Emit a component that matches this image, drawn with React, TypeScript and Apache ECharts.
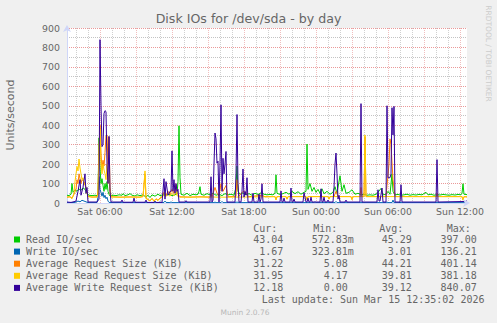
import React, { useEffect, useRef } from "react";
import * as echarts from "echarts";

// ---- axes / labels -------------------------------------------------------
const TITLE = "Disk IOs for /dev/sda - by day";
const Y_LABEL = "Units/second";
// x values are minutes since Sat 00:00
const X_MIN = 195; // Sat 03:15
const X_MAX = 2195; // Sun 12:35
const STEP_MIN = 5; // rrd resolution (minutes per sample)
const xTickMinutes = [360, 720, 1080, 1440, 1800, 2160];
const xTickLabels = ["Sat 06:00", "Sat 12:00", "Sat 18:00", "Sun 00:00", "Sun 06:00", "Sun 12:00"];
const MINOR_GRID_EVERY = 60; // minutes
const MAJOR_GRID_EVERY = 180; // minutes

// ---- series ----------------------------------------------------------------
const seriesNames = [
  "Read IO/sec",
  "Write IO/sec",
  "Average Request Size (KiB)",
  "Average Read Request Size (KiB)",
  "Average Write Request Size (KiB)",
];
const seriesColors = ["#00CC00", "#0066B3", "#FF8000", "#FFCC00", "#330099"];

const readIO: [number, number][] = [
  [195,40],[205,38],[215,45],[220,100],[225,55],[235,68],[245,60],[255,72],[265,65],[275,78],[285,70],[295,48],[305,40],[320,38],[335,40],[345,38],[350,45],[355,335],[360,180],[365,100],[370,125],[375,90],[380,60],[385,100],[390,70],[395,110],[400,60],[405,45],[410,36],[425,40],[440,38],[455,42],[470,40],[475,48],[485,38],[500,42],[510,48],[520,40],[535,36],[545,42],[560,38],[575,42],[590,30],[600,40],[610,28],[620,42],[635,35],[650,45],[660,38],[675,42],[690,40],[705,45],[720,38],[735,42],[745,48],[750,110],[755,397],[760,130],[765,45],[780,40],[795,50],[810,38],[825,45],[840,42],[850,45],[855,60],[860,84],[865,45],[880,40],[895,48],[910,42],[925,50],[940,40],[955,45],[970,38],[985,48],[1000,42],[1015,45],[1030,40],[1040,80],[1045,190],[1050,60],[1060,45],[1075,52],[1090,42],[1105,48],[1120,40],[1135,50],[1150,44],[1165,52],[1180,45],[1195,42],[1210,44],[1225,42],[1235,50],[1240,145],[1245,50],[1260,44],[1275,48],[1290,55],[1305,45],[1320,60],[1335,48],[1350,58],[1365,45],[1380,55],[1390,60],[1395,303],[1400,70],[1410,100],[1420,60],[1430,80],[1440,55],[1450,70],[1460,50],[1470,73],[1480,48],[1495,60],[1510,45],[1525,55],[1535,84],[1545,50],[1560,140],[1570,60],[1580,94],[1590,50],[1605,55],[1620,68],[1635,45],[1650,50],[1665,42],[1680,45],[1695,40],[1710,42],[1725,40],[1740,45],[1750,55],[1765,75],[1775,42],[1790,45],[1800,60],[1810,45],[1820,150],[1825,60],[1835,42],[1850,44],[1865,40],[1880,42],[1895,45],[1910,40],[1925,43],[1940,41],[1955,44],[1970,42],[1990,55],[2000,42],[2015,45],[2030,40],[2045,43],[2060,41],[2075,44],[2090,42],[2105,40],[2120,43],[2135,41],[2150,44],[2165,42],[2170,50],[2175,99],[2180,45],[2195,43],
];

const writeIO: [number, number][] = [
  [195,1.5],[235,3],[250,10],[260,6],[270,14],[285,8],[300,2],[345,2],[350,30],[355,136],[360,70],[365,55],[370,35],[375,55],[380,28],[385,40],[390,22],[395,30],[400,10],[405,3],[420,2],[530,2],[535,4],[540,2],[655,2],[660,6],[665,2],[680,3],[685,10],[690,3],[710,2],[715,6],[720,2],[930,2],[935,5],[940,2],[965,2],[970,8],[975,2],[1040,2],[1045,6],[1050,2],[1430,2],[1435,6],[1440,2],[1535,2],[1540,8],[1545,2],[1665,2],[1670,4],[1675,2],[1790,2],[1795,5],[1800,2],[1820,2],[1825,15],[1830,2],[1855,2],[1860,3],[1865,2],[2040,2],[2045,4],[2050,2],[2195,1.7],
];

const avgReqSize: [number, number][] = [
  [195,30],[210,32],[220,25],[230,45],[240,70],[245,120],[250,100],[255,150],[265,100],[270,120],[280,110],[290,80],[300,35],[320,30],[345,32],[350,60],[355,280],[360,401],[365,250],[370,180],[375,220],[380,190],[385,260],[390,345],[395,350],[400,200],[405,340],[410,80],[415,32],[460,30],[510,31],[560,30],[575,35],[585,150],[590,25],[600,18],[610,12],[620,24],[630,10],[640,22],[650,14],[660,26],[670,32],[680,55],[690,40],[700,60],[710,45],[720,70],[730,50],[740,95],[745,50],[760,32],[810,30],[860,32],[910,30],[915,45],[920,32],[935,80],[945,50],[955,35],[965,100],[975,60],[990,90],[1000,32],[1040,35],[1045,120],[1055,35],[1075,60],[1095,50],[1100,32],[1170,40],[1185,32],[1235,33],[1240,17],[1245,33],[1290,33],[1295,20],[1300,33],[1390,33],[1395,18],[1400,33],[1500,33],[1505,20],[1510,33],[1530,33],[1540,60],[1550,33],[1615,33],[1620,18],[1625,33],[1660,33],[1665,80],[1670,33],[1680,33],[1685,340],[1690,33],[1790,33],[1795,90],[1805,200],[1810,330],[1815,300],[1825,120],[1835,33],[2040,33],[2045,50],[2050,33],[2170,33],[2175,15],[2180,33],[2195,31],
];

const avgReadReqSize: [number, number][] = [
  [195,30],[210,32],[220,22],[230,50],[235,110],[245,188],[250,165],[255,226],[260,180],[270,120],[275,130],[280,95],[285,100],[295,50],[300,32],[345,30],[350,45],[355,250],[360,381],[365,200],[370,150],[375,200],[380,170],[385,150],[390,120],[395,200],[400,100],[405,150],[410,50],[415,31],[460,30],[510,31],[560,30],[575,32],[585,165],[590,22],[600,18],[610,10],[620,22],[630,8],[640,20],[650,12],[660,24],[670,30],[680,40],[690,33],[700,45],[710,35],[720,50],[730,38],[740,55],[745,38],[760,30],[860,31],[1000,30],[1100,31],[1185,32],[1235,33],[1240,17],[1245,33],[1290,33],[1295,20],[1300,33],[1390,33],[1395,18],[1400,33],[1500,33],[1505,20],[1510,33],[1615,33],[1620,18],[1625,33],[1680,33],[1685,350],[1690,33],[2170,33],[2175,15],[2180,33],[2195,32],
];

const avgWriteReqSize: [number, number][] = [
  [195,5],[215,3],[235,8],[240,10],[250,60],[260,120],[265,40],[275,80],[285,150],[290,50],[295,80],[300,5],[345,5],[355,20],[360,840],[365,500],[370,290],[375,300],[380,460],[385,475],[390,470],[395,200],[400,100],[405,343],[410,60],[415,5],[465,5],[470,15],[475,4],[525,4],[530,25],[535,4],[585,4],[590,15],[595,3],[630,3],[635,10],[640,3],[670,3],[680,125],[685,20],[690,110],[700,40],[710,60],[715,60],[720,268],[725,60],[730,120],[735,50],[740,100],[745,60],[750,70],[755,5],[785,5],[790,12],[795,5],[910,5],[915,135],[920,5],[925,15],[930,200],[935,360],[940,330],[945,205],[950,215],[955,5],[960,200],[965,505],[970,60],[975,230],[980,150],[985,200],[990,265],[995,5],[1035,5],[1040,150],[1045,455],[1050,100],[1055,5],[1065,5],[1070,60],[1075,175],[1080,30],[1085,60],[1090,40],[1095,130],[1100,5],[1120,5],[1125,50],[1130,5],[1150,5],[1155,46],[1160,5],[1165,20],[1170,99],[1175,5],[1260,5],[1265,62],[1270,5],[1275,5],[1280,25],[1285,5],[1310,5],[1315,77],[1320,5],[1325,5],[1330,20],[1335,5],[1375,5],[1380,53],[1385,30],[1390,5],[1395,5],[1400,25],[1405,5],[1410,5],[1415,30],[1420,5],[1460,5],[1465,73],[1470,5],[1475,5],[1480,30],[1485,5],[1495,5],[1500,15],[1505,5],[1525,5],[1530,80],[1535,200],[1540,257],[1545,150],[1550,20],[1555,40],[1560,5],[1585,5],[1590,15],[1595,5],[1660,5],[1665,511],[1670,5],[1745,5],[1750,68],[1755,10],[1760,10],[1770,77],[1775,5],[1790,5],[1795,500],[1800,130],[1805,130],[1810,130],[1815,150],[1820,490],[1825,350],[1830,497],[1835,5],[1860,5],[1865,94],[1870,5],[2040,5],[2045,223],[2050,5],[2190,8],[2195,12],
];

const seriesData = [readIO, writeIO, avgReqSize, avgReadReqSize, avgWriteReqSize];

// ---- legend statistics ----------------------------------------------------
const curValues = ["43.04", "1.67", "31.22", "31.95", "12.18"];
const minValues = ["572.83m", "323.81m", "5.08", "4.17", "0.00"];
const avgValues = ["45.29", "3.01", "44.21", "39.81", "39.12"];
const maxValues = ["397.00", "136.21", "401.14", "381.18", "840.07"];
const LAST_UPDATE = "Last update: Sun Mar 15 12:35:02 2026";
const WATERMARK = "Munin 2.0.76";
const SIDE_TEXT = "RRDTOOL / TOBI OETIKER";

const FONT = "#666666";
const AXIS_COLOR = "#CFD6F8";
const MAJOR_GRID = "rgba(225,110,110,0.7)";
const MAJOR_GRID_V = "rgba(225,110,110,0.45)";
const MINOR_GRID = "rgba(170,170,170,0.7)";
const MINOR_GRID_V = "rgba(170,170,170,0.55)";
const SANS = "DejaVu Sans";
const MONO = "DejaVu Sans Mono";

function txt(text: string, x: number, y: number, opts: any = {}) {
  return {
    type: "text",
    x,
    y,
    rotation: opts.rotation || 0,
    silent: true,
    style: {
      text,
      fill: opts.fill || FONT,
      fontSize: opts.fontSize || 10,
      fontFamily: opts.fontFamily || MONO,
      align: opts.align || "left",
      verticalAlign: "middle",
      textAlign: opts.align || "left",
      textVerticalAlign: "middle",
    },
  };
}

function buildGraphic() {
  const g: any[] = [];
  g.push(txt(TITLE, 248.5, 18.5, { fontFamily: SANS, fontSize: 12.6, align: "center" }));
  g.push(txt(Y_LABEL, 10.5, 115, { fontFamily: SANS, fontSize: 11, align: "center", rotation: Math.PI / 2 }));
  g.push(txt(SIDE_TEXT, 488, 53.5, { fontFamily: SANS, fontSize: 7.5, align: "center", rotation: -Math.PI / 2, fill: "#CCCCCC" }));
  g.push(txt(WATERMARK, 245, 312, { fontFamily: SANS, fontSize: 7.5, align: "center", fill: "#B8B8B8" }));

  const headY = 228;
  g.push(txt("Cur:", 253.3, headY));
  g.push(txt("Min:", 313.3, headY));
  g.push(txt("Avg:", 379.3, headY));
  g.push(txt("Max:", 446.7, headY));

  seriesNames.forEach((name, i) => {
    const y = 239.5 + i * 12.1;
    g.push({
      type: "rect",
      silent: true,
      shape: { x: 14, y: y - 3, width: 6, height: 6 },
      style: { fill: seriesColors[i] },
    });
    g.push(txt(name, 26, y));
    g.push(txt(curValues[i], 283.4, y, { align: "right" }));
    const mv = minValues[i];
    g.push(txt(mv, mv.endsWith("m") ? 353.8 : 347.8, y, { align: "right" }));
    g.push(txt(avgValues[i], 411.8, y, { align: "right" }));
    g.push(txt(maxValues[i], 476.7, y, { align: "right" }));
  });
  g.push(txt(LAST_UPDATE, 261.7, 299.5));
  return g;
}

export default function App() {
  const ref = useRef<HTMLDivElement>(null);

  useEffect(() => {
    if (!ref.current) return;
    const chart = echarts.init(ref.current, undefined, { renderer: "svg", width: 497, height: 323 });

    // time slots of the rrd (one per pixel column) used only for the vertical grid
    const slots: string[] = [];
    for (let m = X_MIN; m <= X_MAX; m += STEP_MIN) slots.push(String(m));

    const gridAxis = (every: number, color: string, skipEvery?: number) => ({
      type: "category",
      data: slots,
      boundaryGap: false,
      axisLine: { show: false },
      axisTick: { show: false },
      axisLabel: { show: false },
      splitLine: {
        show: true,
        interval: (_i: number, v: string) => {
          const m = Number(v);
          if (m % every !== 0) return false;
          if (skipEvery && m % skipEvery === 0) return false;
          return true;
        },
        lineStyle: { color, type: [1, 1], width: 1 },
      },
    });

    const option: any = {
      animation: false,
      backgroundColor: "#F0F0F0",
      textStyle: { fontFamily: SANS },
      grid: {
        left: 67,
        top: 28,
        width: 400,
        height: 175,
        show: true,
        backgroundColor: "#FFFFFF",
        borderWidth: 0,
      },
      xAxis: [
        {
          type: "value",
          min: X_MIN,
          max: X_MAX,
          z: 5,
          axisLine: {
            show: true,
            onZero: true,
            symbol: ["none", "arrow"],
            symbolSize: [6, 7],
            symbolOffset: [0, 3],
            lineStyle: { color: AXIS_COLOR, width: 1 },
          },
          axisTick: { show: false },
          splitLine: { show: false },
          axisLabel: {
            customValues: xTickMinutes,
            formatter: (v: number) => {
              const i = xTickMinutes.indexOf(v);
              return i >= 0 ? xTickLabels[i] : "";
            },
            color: FONT,
            fontSize: 9.4,
            fontFamily: SANS,
            margin: 4,
          },
        },
        gridAxis(MINOR_GRID_EVERY, MINOR_GRID_V, MAJOR_GRID_EVERY),
        gridAxis(MAJOR_GRID_EVERY, MAJOR_GRID_V),
      ],
      yAxis: {
        type: "value",
        min: 0,
        max: 900,
        interval: 100,
        axisLine: {
          show: true,
          symbol: ["none", "arrow"],
          symbolSize: [6, 7],
          symbolOffset: [0, 3],
          lineStyle: { color: AXIS_COLOR, width: 1 },
        },
        axisTick: { show: false },
        axisLabel: { color: FONT, fontSize: 9.4, fontFamily: SANS, margin: 7 },
        splitLine: { show: true, lineStyle: { color: MAJOR_GRID, type: [1, 1], width: 1 } },
        minorTick: { show: false, splitNumber: 2 },
        minorSplitLine: { show: true, lineStyle: { color: MINOR_GRID, type: [1, 1], width: 1 } },
      },
      series: seriesNames.map((name, i) => ({
        type: "line",
        name,
        xAxisIndex: 0,
        data: seriesData[i],
        showSymbol: false,
        silent: true,
        z: 3,
        color: seriesColors[i],
        lineStyle: { color: seriesColors[i], width: 1 },
      })),
      graphic: buildGraphic(),
    };

    chart.setOption(option);
    return () => chart.dispose();
  }, []);

  return (
    <div
      ref={ref}
      style={{ position: "absolute", left: 0, top: 0, width: 497, height: 323 }}
    />
  );
}
